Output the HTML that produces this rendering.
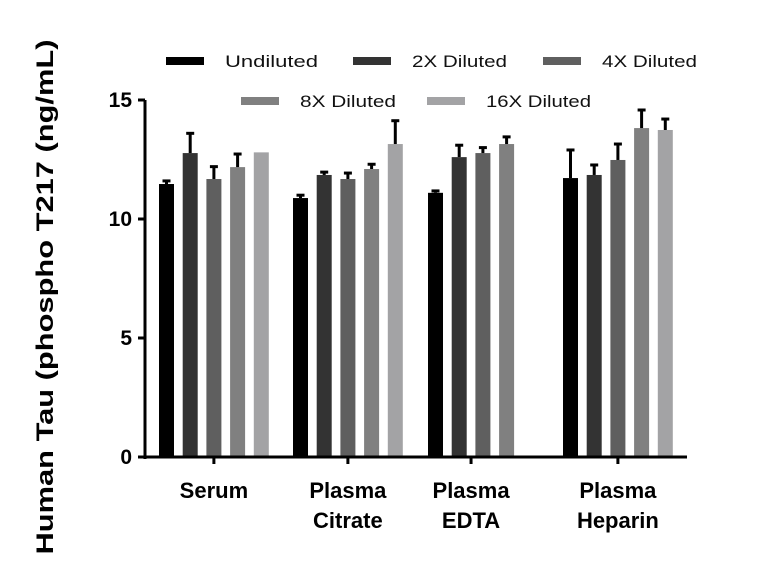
<!DOCTYPE html>
<html><head><meta charset="utf-8"><style>
body{margin:0;background:#fff;width:768px;height:562px;overflow:hidden}
svg{display:block;font-family:"Liberation Sans",sans-serif}
</style></head><body>
<svg id="chart" width="768" height="562"></svg>
<script>
const categories = [["Serum"],["Plasma","Citrate"],["Plasma","EDTA"],["Plasma","Heparin"]];
const seriesNames = ["Undiluted","2X Diluted","4X Diluted","8X Diluted","16X Diluted"];
const undiluted = [11.47, 10.88, 11.1, 11.72];
const diluted2x = [12.77, 11.85, 12.6, 11.85];
const diluted4x = [11.68, 11.68, 12.77, 12.48];
const diluted8x = [12.18, 12.1, 13.15, 13.82];
const diluted16x = [12.8, 13.15, null, 13.74];
const err1 = [0.13, 0.12, 0.08, 1.18];
const err2 = [0.83, 0.12, 0.5, 0.42];
const err4 = [0.52, 0.25, 0.23, 0.67];
const err8 = [0.55, 0.2, 0.3, 0.76];
const err16 = [0, 0.98, null, 0.46];
const yTicks = [0, 5, 10, 15];

const colors = ["#000000","#333333","#5f5f5f","#808080","#a3a3a5"];
const values = [undiluted, diluted2x, diluted4x, diluted8x, diluted16x];
const errs = [err1, err2, err4, err8, err16];
const NS = "http://www.w3.org/2000/svg";
const svg = document.getElementById("chart");
const y0 = 457, yTop = 100, yMax = 15;
const y = v => y0 - v / yMax * (y0 - yTop);
const groupStart = [159, 293, 428, 563];
const barStep = 23.7, barW = 15;
const x = (g, s) => groupStart[g] + s * barStep;
function el(tag, attrs, txt){const e=document.createElementNS(NS,tag);for(const k in attrs)e.setAttribute(k,attrs[k]);if(txt!==undefined)e.textContent=txt;svg.appendChild(e);return e;}

for (let s=0;s<values.length;s++){
  for (let g=0;g<categories.length;g++){
    const v = values[s][g];
    if (v===null) continue;
    const b = el("rect",{x:x(g,s),y:y(v),width:barW,height:y0-y(v),fill:colors[s]});
    
    
    const e = errs[s][g];
    if (e){
      const cx = x(g,s)+barW/2;
      const l = el("line",{x1:cx,x2:cx,y1:y(v),y2:y(v+e),stroke:"#000","stroke-width":3});
      
      
      const c = el("line",{x1:cx-4,x2:cx+4,y1:y(v+e),y2:y(v+e),stroke:"#000","stroke-width":3});
      
      
    }
  }
}
const ya = el("path",{d:"M145,"+yTop+" V"+(y0+2),stroke:"#000","stroke-width":3,fill:"none"});


const xa = el("path",{d:"M144,"+y0+" H687",stroke:"#000","stroke-width":3,fill:"none"});


yTicks.forEach(t=>{
  const tk = el("line",{x1:138,x2:145,y1:y(t),y2:y(t),stroke:"#000","stroke-width":3});
  
  
  const lb = el("text",{x:132,y:y(t)+7,"text-anchor":"end","font-size":21,"font-weight":"bold"},t);
  
  
});
categories.forEach((c,g)=>{
  const cx = g===2 ? x(g,1.5)+barW/2 : x(g,2)+barW/2;
  const tk = el("line",{x1:cx,x2:cx,y1:y0,y2:y0+7,stroke:"#000","stroke-width":3});
  
  
  c.forEach((line,i)=>{
    const t = el("text",{x:cx,y:498+i*30,"text-anchor":"middle","font-size":22,"font-weight":"bold"},line);
    
    
  });
});
const yt = el("text",{x:0,y:0,transform:"translate(53,297) rotate(-90)","text-anchor":"middle","font-size":24,"font-weight":"bold",textLength:515,lengthAdjust:"spacingAndGlyphs"},"Human Tau (phospho T217 (ng/mL)");


const legPos = [[166,61,93],[353,61,95],[543,61,95],[241,101,96],[427,101,105]];
seriesNames.forEach((n,i)=>{
  const [lx,ly,tw] = legPos[i];
  const sw = el("rect",{x:lx,y:ly-4,width:38,height:8,fill:colors[i]});
  
  
  const t = el("text",{x:lx+59,y:ly+6,"font-size":17,fill:"#111",textLength:tw,lengthAdjust:"spacingAndGlyphs"},n);
  
  
});
</script>
</body></html>
